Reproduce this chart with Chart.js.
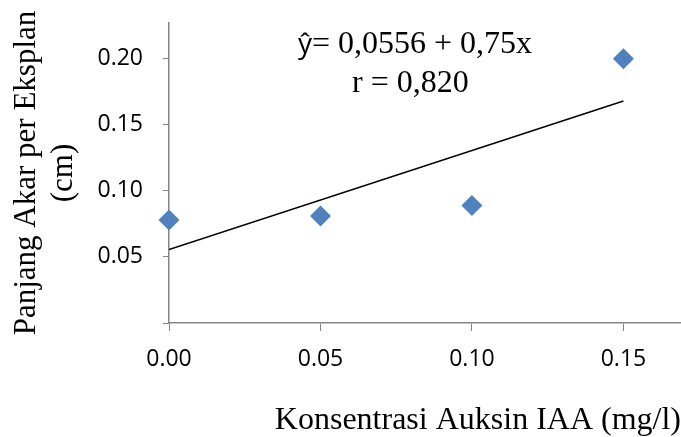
<!DOCTYPE html>
<html>
<head>
<meta charset="utf-8">
<script src="https://cdn.jsdelivr.net/npm/chart.js@4"></script>
<style>
  html, body { margin: 0; padding: 0; background: #fff; }
  #wrap { width: 681px; height: 437px; }
</style>
</head>
<body>
<div id="wrap"><canvas id="rootChart" width="681" height="437"></canvas></div>
<script>
// data
var concentrations = [0.00, 0.05, 0.10, 0.15];
var rootLength = [0.078, 0.081, 0.089, 0.200];
var trendX = [0.00, 0.15];
var trendY = [0.0556, 0.168];
var xTicks = [0.00, 0.05, 0.10, 0.15];
var yTicks = [0.00, 0.05, 0.10, 0.15, 0.20];
var equationText = 'ŷ';
var equationRest = '= 0,0556 + 0,75x';
var rText = 'r = 0,820';

var serif = '"Liberation Serif", "Times New Roman", serif';
var sans = '"Open Sans", sans-serif';
var axisGray = '#868686';

var points = concentrations.map(function (c, i) { return { x: c, y: rootLength[i] }; });
var trend = trendX.map(function (c, i) { return { x: c, y: trendY[i] }; });

// equation label drawn on top of the chart
var equationPlugin = {
  id: 'equation',
  afterDraw: function (chart) {
    var ctx = chart.ctx;
    ctx.save();
    ctx.fillStyle = '#000';
    ctx.textAlign = 'left';
    ctx.textBaseline = 'alphabetic';
    ctx.font = '28px ' + sans;
    ctx.fillText(equationText, 298, 53);
    var w = ctx.measureText(equationText).width;
    ctx.font = '32px ' + serif;
    ctx.fillText(equationRest, 298 + w, 53);
    ctx.fillText(rText, 352, 92);
    ctx.restore();
  }
};

if (window.rootChartInstance) {
  window.rootChartInstance.destroy();
}

var ctx = document.getElementById('rootChart').getContext('2d');
window.rootChartInstance = new Chart(ctx, {
  type: 'scatter',
  data: {
    datasets: [{
      label: 'Panjang akar',
      data: points,
      pointStyle: 'rectRot',
      pointRadius: 10.5,
      pointHoverRadius: 10.5,
      backgroundColor: '#4F81BD',
      borderColor: '#4F81BD',
      borderWidth: 0,
      clip: false,
      order: 1
    }, {
      label: 'Trend',
      type: 'line',
      data: trend,
      borderColor: '#000',
      borderWidth: 1.5,
      pointRadius: 0,
      fill: false,
      order: 2
    }]
  },
  options: {
    responsive: false,
    animation: false,
    layout: { autoPadding: false, padding: { top: 23, right: 0, left: 0, bottom: 0 } },
    plugins: {
      legend: { display: false },
      tooltip: { enabled: false }
    },
    scales: {
      x: {
        type: 'linear',
        min: 0,
        max: 0.169,
        afterBuildTicks: function (s) { s.ticks = xTicks.map(function (v) { return { value: v }; }); },
        afterFit: function (s) { s.height = 114; s.paddingLeft = 0; s.paddingRight = 0; },
        grid: { drawOnChartArea: false, drawTicks: true, tickLength: 8, color: axisGray, tickColor: axisGray },
        border: { display: true, color: axisGray, width: 1.5 },
        ticks: {
          color: '#000',
          font: { family: sans, size: 23 },
          padding: 15,
          maxRotation: 0,
          callback: function (v) { return v.toFixed(2); }
        },
        title: {
          display: true,
          text: 'Konsentrasi Auksin IAA (mg/l)',
          align: 'end',
          color: '#000',
          font: { family: serif, size: 32, lineHeight: 1 },
          padding: { top: 0, bottom: 0 }
        }
      },
      y: {
        type: 'linear',
        min: 0,
        max: 0.227,
        afterBuildTicks: function (s) { s.ticks = yTicks.map(function (v) { return { value: v }; }); },
        afterFit: function (s) { s.width = 169; s.paddingTop = 0; s.paddingBottom = 0; },
        grid: { drawOnChartArea: false, drawTicks: true, tickLength: 6, color: axisGray, tickColor: axisGray },
        border: { display: true, color: axisGray, width: 1.5 },
        ticks: {
          color: '#000',
          font: { family: sans, size: 23 },
          padding: 20,
          callback: function (v) { return v === 0 ? '' : v.toFixed(2); }
        },
        title: {
          display: true,
          text: ['Panjang Akar per Eksplan', '(cm)'],
          color: '#000',
          font: { family: serif, size: 31, lineHeight: 1.18 },
          padding: { top: 9, bottom: 0 }
        }
      }
    }
  },
  plugins: [equationPlugin]
});
</script>
</body>
</html>
